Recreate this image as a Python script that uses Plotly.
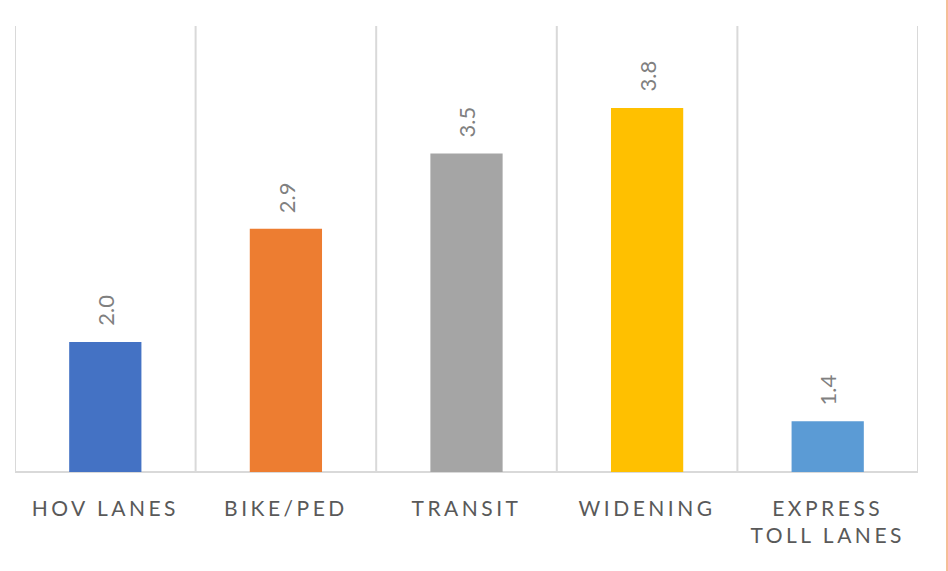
import plotly.graph_objects as go

categories = ["HOV LANES", "BIKE/PED", "TRANSIT", "WIDENING", "EXPRESS<br>TOLL LANES"]
values = [2.0, 2.87, 3.45, 3.8, 1.39]
bar_colors = ["#4472C4", "#ED7D31", "#A5A5A5", "#FFC000", "#5B9BD5"]

FONT = "Lato, 'Open Sans', sans-serif"
xs = list(range(len(categories)))

fig = go.Figure()
fig.add_trace(go.Bar(
    x=xs, y=values, width=0.4,
    marker=dict(color=bar_colors, line=dict(width=0)),
    hoverinfo="skip",
))

# data labels
for x, v in zip(xs, values):
    fig.add_annotation(
        x=x, y=v, text=f"{v:.1f}", showarrow=False, textangle=-90,
        xanchor="center", yanchor="bottom", yshift=14,
        font=dict(family=FONT, size=22, color="#808080"),
    )

# category separators (vertical gridlines)
for i in range(len(categories) + 1):
    fig.add_shape(type="line", xref="x", yref="paper",
                  x0=i - 0.5, x1=i - 0.5, y0=0, y1=1,
                  line=dict(color="#D9D9D9", width=2), layer="below")
# baseline
fig.add_shape(type="line", xref="paper", yref="paper", x0=0, x1=1, y0=0, y1=0,
              line=dict(color="#D9D9D9", width=2), layer="below")
# right edge border
fig.add_shape(type="line", xref="paper", yref="paper",
              x0=(947 - 15) / 903, x1=(947 - 15) / 903, y0=-0.25, y1=1.1,
              line=dict(color="#ED7D31", width=1))

fig.update_layout(
    width=948, height=571,
    margin=dict(l=15, r=30, t=26, b=99),
    paper_bgcolor="white", plot_bgcolor="white",
    showlegend=False,
    font=dict(family=FONT, color="#595959"),
    xaxis=dict(
        range=[-0.5, len(categories) - 0.5],
        tickmode="array", tickvals=xs, ticktext=categories,
        showgrid=False, zeroline=False, showline=False,
        ticks="", ticklabelstandoff=22,
        tickfont=dict(family=FONT, size=21, color="#595959"),
        fixedrange=True,
    ),
    yaxis=dict(
        range=[1.0, 4.43], showgrid=False, zeroline=False, showline=False,
        showticklabels=False, ticks="", fixedrange=True,
    ),
)

post = """
document.body.style.margin='0';
document.body.style.overflow='hidden';
function __ls(){document.querySelectorAll('.xtick text, .xtick tspan').forEach(function(t){t.style.letterSpacing='3.5px';});}
__ls();
var gd=document.getElementById('{plot_id}'); if(gd&&gd.on){gd.on('plotly_afterplot',__ls);}
"""
fig.write_html("out.html", post_script=post, config={"displayModeBar": False})
